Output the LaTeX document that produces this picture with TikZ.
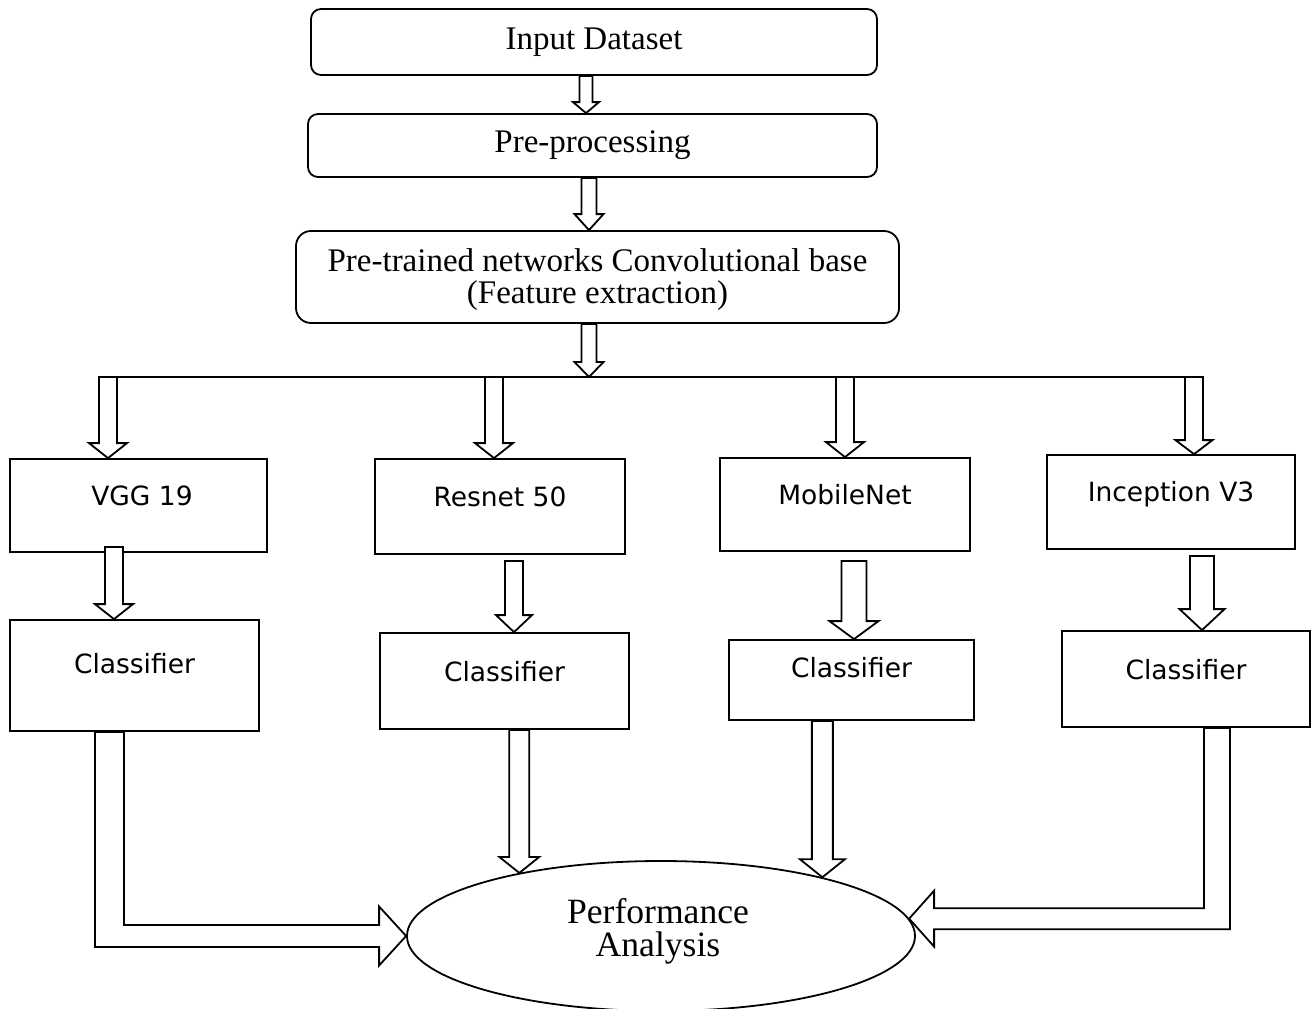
\documentclass[tikz,border=0pt]{standalone}
\usepackage{fontspec}
\setmainfont{Liberation Serif}
\newfontfamily\labelsans{DejaVu Sans}
\usetikzlibrary{shapes.geometric,calc}

\tikzset{
  stage/.style={draw, line width=1.8pt, rounded corners=10pt, inner sep=0pt,
    align=center, font=\fontsize{33}{32}\selectfont},
  modelbox/.style={draw, line width=1.8pt, inner sep=0pt},
  boxlabel/.style={font=\labelsans\fontsize{26.5}{30}\selectfont, inner sep=0pt},
  perftext/.style={font=\fontsize{35.6}{33}\selectfont, align=center, inner sep=0pt},
  basetext/.style={font=\fontsize{33}{32}\selectfont, align=center, inner sep=0pt},
  hollow/.style={draw, fill=white, line width=1.8pt, line join=miter},
  bus/.style={line width=1.8pt},
}

% Hollow block arrow pointing down: start point (its y is used), tip point,
% shaft half width, head half width, head length.
\newcommand\blockdown[5]{%
  \draw[hollow] let \p1=#1, \p2=#2 in
    (\x2-#3,\y1) -- (\x2-#3,\y2+#5) -- (\x2-#4,\y2+#5) -- (\x2,\y2)
    -- (\x2+#4,\y2+#5) -- (\x2+#3,\y2+#5) -- (\x2+#3,\y1) -- cycle;}

\begin{document}
\begin{tikzpicture}[x=1pt, y=-1pt]
\useasboundingbox (0,0) rectangle (1312,1009);

% main pipeline
\node[stage, minimum width=566pt, minimum height=66pt] (inp) at (594,42) {Input Dataset};
\node[stage, minimum width=569pt, minimum height=63pt] (pre) at (592.5,145.5) {Pre-processing};
\node[stage, rounded corners=15pt, minimum width=603pt, minimum height=92pt,
  label={[basetext, yshift=-2.5pt]center:{Pre-trained networks Convolutional base\\(Feature extraction)}}]
  (base) at (597.5,277) {};

% networks
\node[modelbox, minimum width=257pt, minimum height=93pt,
  label={[boxlabel, xshift=3.5pt, yshift=9.5pt]center:VGG 19}] (vgg) at (138.5,505.5) {};
\node[modelbox, minimum width=250pt, minimum height=95pt,
  label={[boxlabel, yshift=9.5pt]center:Resnet 50}] (resnet) at (500,506.5) {};
\node[modelbox, minimum width=250pt, minimum height=93pt,
  label={[boxlabel, yshift=10pt]center:MobileNet}] (mobile) at (845,504.5) {};
\node[modelbox, minimum width=248pt, minimum height=94pt,
  label={[boxlabel, yshift=8pt]center:Inception V3}] (incep) at (1171,502) {};

% classifiers
\node[modelbox, minimum width=249pt, minimum height=111pt,
  label={[boxlabel, yshift=12pt]center:Classifier}] (c1) at (134.5,675.5) {};
\node[modelbox, minimum width=249pt, minimum height=96pt,
  label={[boxlabel, yshift=9.5pt]center:Classifier}] (c2) at (504.5,681) {};
\node[modelbox, minimum width=245pt, minimum height=80pt,
  label={[boxlabel, yshift=12.5pt]center:Classifier}] (c3) at (851.5,680) {};
\node[modelbox, minimum width=248pt, minimum height=96pt,
  label={[boxlabel, yshift=9.5pt]center:Classifier}] (c4) at (1186,679) {};

% result
\node[draw, ellipse, line width=1.8pt, minimum width=508pt, minimum height=150pt, inner sep=0pt,
  label={[perftext, xshift=-3pt, yshift=5pt]center:{Performance\\Analysis}}] (perf) at (661,936) {};

% distribution bus
\coordinate (busL) at (99,377);
\coordinate (busR) at (1203,377);
\draw[bus] (busL) -- (busR);

% pipeline arrows
\blockdown{(inp.south)}{(pre.north -| 586,0)}{6.5pt}{13pt}{11pt}
\blockdown{(pre.south)}{(base.north -| 589,0)}{7.5pt}{14.5pt}{16pt}
\blockdown{(base.south)}{(busL -| 589,0)}{7.5pt}{14.5pt}{15pt}

% bus to networks
\blockdown{(busL)}{(vgg.north -| 108,0)}{9pt}{19pt}{15pt}
\blockdown{(busL)}{(resnet.north -| 494,0)}{9pt}{19pt}{15pt}
\blockdown{(busL)}{(mobile.north -| 845,0)}{9pt}{19pt}{15pt}
\blockdown{(busL)}{(incep.north -| 1194,0)}{9pt}{18.5pt}{14pt}

% networks to classifiers
\blockdown{([yshift=6pt]vgg.south)}{(c1.north -| 114,0)}{9pt}{19pt}{15pt}
\blockdown{([yshift=-6pt]resnet.south)}{(c2.north -| 514,0)}{9pt}{18pt}{17pt}
\blockdown{([yshift=-9pt]mobile.south)}{(c3.north -| 854,0)}{12.5pt}{24.5pt}{18pt}
\blockdown{([yshift=-6pt]incep.south)}{(c4.north -| 1202,0)}{12pt}{22.5pt}{21pt}

% classifiers to performance analysis
\blockdown{(c2.south)}{(perf.156)}{10pt}{20pt}{16pt}
\blockdown{(c3.south)}{(perf.20)}{10.5pt}{22.5pt}{18pt}
\draw[hollow] let \p1=(c1.south), \p2=(perf.west), \p3=(95,0), \p4=(124,0) in
  (\x3,\y1) -- (\x3,\y2-11pt) -- (\x2-27pt,\y2-11pt) -- (\x2-27pt,\y2-29.5pt) -- (\p2)
  -- (\x2-27pt,\y2+29.5pt) -- (\x2-27pt,\y2+11pt) -- (\x4,\y2+11pt) -- (\x4,\y1) -- cycle;
\draw[hollow] let \p1=(c4.south), \p2=(perf.4), \p3=(1204,0), \p4=(1230,0) in
  (\x4,\y1) -- (\x4,\y2-10.5pt) -- (\x2+25pt,\y2-10.5pt) -- (\x2+25pt,\y2-28pt) -- (\p2)
  -- (\x2+25pt,\y2+28pt) -- (\x2+25pt,\y2+10.5pt) -- (\x3,\y2+10.5pt) -- (\x3,\y1) -- cycle;
\end{tikzpicture}
\end{document}
